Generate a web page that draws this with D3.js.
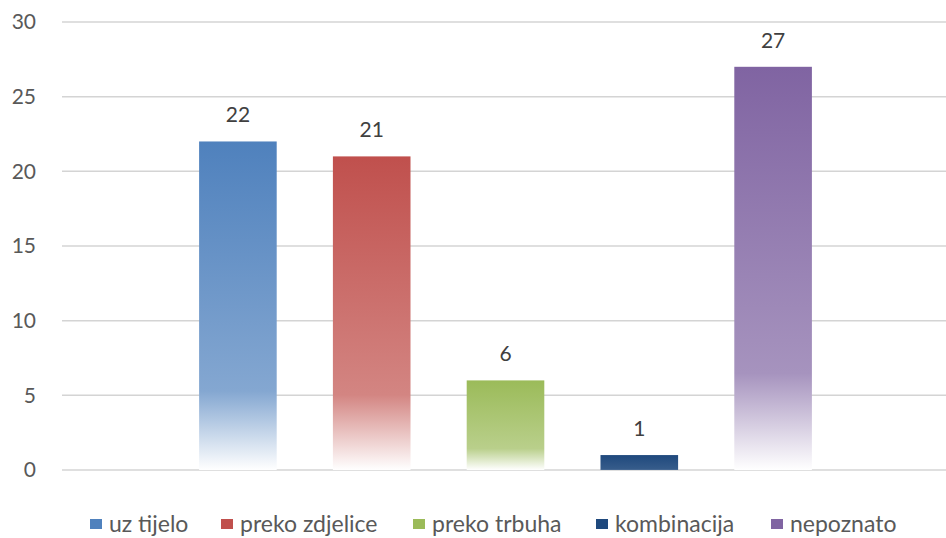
<!DOCTYPE html>
<html>
<head>
<meta charset="utf-8">
<script src="https://cdn.jsdelivr.net/npm/d3@7"></script>
<style>
  body { margin: 0; background: #fff; }
  svg { display: block; font-family: Lato, "Open Sans", sans-serif; }
</style>
</head>
<body>
<svg id="chart" width="946" height="538"></svg>
<script>
const categories = ["uz tijelo", "preko zdjelice", "preko trbuha", "kombinacija", "nepoznato"];
const values = [22, 21, 6, 1, 27];
const colors = ["#4f81bd", "#c0504d", "#9bbb59", "#1f497d", "#8064a2"];
const yTicks = [0, 5, 10, 15, 20, 25, 30];

const svg = d3.select("#chart");

const y = d3.scaleLinear().domain([0, 30]).range([470, 22]);
const x = d3.scaleBand().domain(categories).range([171, 840]).paddingInner(0.42).paddingOuter(0.21);

// gradients: solid at top, fading to white at the base
const defs = svg.append("defs");
categories.forEach((c, i) => {
  const g = defs.append("linearGradient")
    .attr("id", "grad" + i)
    .attr("x1", 0).attr("y1", 0).attr("x2", 0).attr("y2", 1);
  const fade = d3.interpolateRgb(colors[i], "#fff");
  g.append("stop").attr("offset", 0).attr("stop-color", colors[i]);
  g.append("stop").attr("offset", i === 3 ? 0.9 : 0.76).attr("stop-color", fade(i === 3 ? 0.1 : 0.3));
  g.append("stop").attr("offset", 1).attr("stop-color", i === 3 ? fade(0.2) : "#fff");
});

// gridlines
svg.append("g")
  .selectAll("line")
  .data(yTicks)
  .join("line")
  .attr("x1", 62).attr("x2", 946)
  .attr("y1", d => y(d)).attr("y2", d => y(d))
  .attr("stroke", "#d4d4d4")
  .attr("stroke-width", 1.5);

// y axis labels
const yAxis = svg.append("g")
  .attr("transform", "translate(36,0)")
  .call(d3.axisLeft(y).tickValues(yTicks).tickSize(0).tickPadding(0));
yAxis.select(".domain").remove();
yAxis.selectAll("text")
  .attr("font-size", 21)
  .attr("fill", "#595959")
  .attr("font-family", "Lato, 'Open Sans', sans-serif");

// bars
svg.append("g")
  .selectAll("rect")
  .data(values)
  .join("rect")
  .attr("x", (d, i) => x(categories[i]))
  .attr("width", x.bandwidth())
  .attr("y", d => y(d))
  .attr("height", d => y(0) - y(d))
  .attr("fill", (d, i) => `url(#grad${i})`);

// value labels
svg.append("g")
  .selectAll("text")
  .data(values)
  .join("text")
  .attr("x", (d, i) => x(categories[i]) + x.bandwidth() / 2)
  .attr("y", d => y(d) - 19)
  .attr("text-anchor", "middle")
  .attr("font-size", 21)
  .attr("fill", "#404040")
  .text(d => d);

// legend
const legendX = [109, 240, 432, 615, 790];
const legend = svg.append("g")
  .selectAll("g")
  .data(categories)
  .join("g")
  .attr("transform", (d, i) => `translate(${legendX[i]},524)`);
legend.append("rect")
  .attr("x", -19).attr("y", -5)
  .attr("width", 12).attr("height", 10)
  .attr("fill", (d, i) => colors[i]);
legend.append("text")
  .attr("dy", "0.35em")
  .attr("font-size", 23)
  .attr("fill", "#595959")
  .text(d => d);
</script>
</body>
</html>
